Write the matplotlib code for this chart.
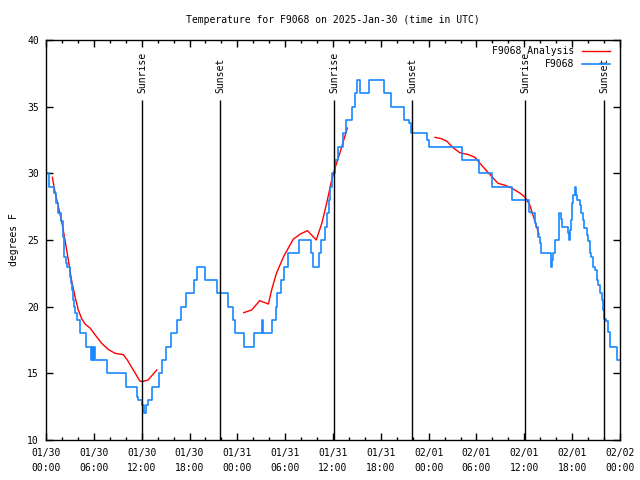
#!/usr/bin/env python3
"""Temperature trace for station F9068 with analysis line and sun events."""

import numpy as np
import matplotlib
matplotlib.use("Agg")
import matplotlib.pyplot as plt
import matplotlib.ticker as ticker

# hours since 2025-01-30 00:00 UTC
obs_hours = [0.0, 0.35, 1.0, 1.25, 1.55, 1.84, 2.09, 2.2, 2.26, 2.51, 2.59, 3.01, 3.1,
             3.22, 3.34, 3.55, 3.64, 3.85, 4.26, 4.97, 5.64, 5.78, 5.84, 6.04, 6.1, 7.7,
             10.0, 11.4, 11.55, 12.0, 12.3, 12.6, 12.75, 13.25, 14.2, 14.6, 15.0, 15.7,
             16.4, 16.9, 17.6, 18.6, 18.95, 19.9, 21.5, 22.8, 23.4, 23.75, 24.8, 26.1,
             27.05, 27.2, 28.35, 28.8, 29.0, 29.5, 29.8, 30.35, 31.75, 33.3, 33.5, 34.3,
             34.5, 35.0, 35.25, 35.45, 35.65, 35.9, 36.2, 36.6, 37.2, 37.6, 38.4, 38.7,
             39.05, 39.4, 40.5, 42.4, 43.3, 44.9, 45.5, 45.8, 47.8, 48.1, 52.2, 54.3,
             56.0, 58.5, 60.63, 60.8, 61.3, 61.5, 61.7, 61.97, 62.05, 63.3, 63.45, 63.6,
             63.8, 64.3, 64.4, 64.55, 64.7, 65.5, 65.6, 65.7, 65.8, 65.98, 66.1, 66.3,
             66.5, 66.65, 67.0, 67.1, 67.3, 67.5, 67.8, 68.0, 68.2, 68.4, 68.6, 68.9,
             69.1, 69.3, 69.5, 69.7, 69.9, 70.0, 70.3, 70.5, 70.7, 70.8, 71.6, 72.0]
obs_temps = [30, 29, 28.5, 27.75, 27, 26.4, 25.25, 24.5, 23.75, 23.25, 23, 22.25, 21.75,
             21.25, 20.5, 20, 19.5, 19, 18, 17, 16, 17, 16, 17, 16, 15,
             14, 13.25, 13, 12.6, 12, 12.6, 13, 14, 15, 16, 17, 18,
             19, 20, 21, 22, 23, 22, 21, 20, 19, 18, 17, 18,
             19, 18, 19, 20, 21, 22, 23, 24, 25, 24, 23, 24,
             25, 26, 27, 28, 29, 30, 31, 32, 33, 34, 35, 36,
             37, 36, 37, 36, 35, 34, 33.75, 33, 32.5, 32, 31, 30,
             29, 28, 27.1, 27, 26.25, 26, 25.25, 24.75, 24, 23, 23.5, 24,
             25, 26, 27, 26.6, 26, 25.5, 25, 25.75, 26.5, 27.8, 28.4, 29,
             28.4, 28, 27.6, 27, 26.5, 25.9, 25.4, 24.9, 24, 23.75, 23, 22.75,
             22, 21.6, 21, 20.5, 19.75, 19.1, 18.9, 18.1, 17.2, 17, 16, 16]

nan = np.nan
analysis_hours = [0.8, 1.13, 1.55, 1.97, 2.38, 2.8, 3.2, 3.64, 4.05, 4.47, 4.9, 5.52,
                  6.15, 6.98, 7.8, 8.66, 9.7, 10.2, 10.95, 11.8, 12.2, 12.8, 13.9, nan,
                  24.8, 25.8, 26.8, 27.9, 28.3, 28.9, 29.8, 31.0, 31.9, 32.8, 33.9, 34.6,
                  35.2, 35.8, 36.25, 36.8, 37.8, nan,
                  48.8, 49.6, 50.3, 51.1, 51.9, 53.0, 53.8, 54.65, 55.7, 56.7, 57.6, 58.4,
                  59.5, 60.1, 60.7, 61.85]
analysis_temps = [29.7, 28.6, 27.5, 26.4, 25.0, 23.5, 22.0, 20.75, 19.75, 19.1, 18.7, 18.4,
                  17.9, 17.25, 16.8, 16.5, 16.4, 16.0, 15.25, 14.4, 14.4, 14.5, 15.25, nan,
                  19.55, 19.75, 20.45, 20.2, 21.25, 22.5, 23.75, 25.05, 25.45, 25.7, 25.0, 26.25,
                  27.75, 29.4, 30.4, 31.4, 33.4, nan,
                  32.7, 32.6, 32.4, 31.9, 31.55, 31.4, 31.2, 30.6, 29.9, 29.25, 29.1, 28.9,
                  28.5, 28.2, 27.6, 25.4]

sun_hours = [12.08, 21.87, 36.17, 45.95, 60.13, 70.03]
sun_labels = ["Sunrise", "Sunset", "Sunrise", "Sunset", "Sunrise", "Sunset"]

tick_hours = list(range(0, 73, 6))
tick_labels = ["01/30\n00:00", "01/30\n06:00", "01/30\n12:00", "01/30\n18:00",
               "01/31\n00:00", "01/31\n06:00", "01/31\n12:00", "01/31\n18:00",
               "02/01\n00:00", "02/01\n06:00", "02/01\n12:00", "02/01\n18:00",
               "02/02\n00:00"]

plt.rcParams['font.family'] = ['DejaVu Sans Mono']
plt.rcParams['font.size'] = 7

fig = plt.figure(figsize=(6.4, 4.8), dpi=100)
ax = fig.add_axes([46 / 640, 40 / 480, 574 / 640, 400 / 480])

ax.plot(analysis_hours, analysis_temps, color='red', lw=1.0, label='F9068 Analysis')
ax.plot(obs_hours, obs_temps, color='#1a88ff', lw=1.2, drawstyle='steps-post', label='F9068')

for h, lab in zip(sun_hours, sun_labels):
    ax.vlines(h, 10, 35.5, color='black', lw=1.0)
    ax.text(h, 36.0, lab, rotation=90, ha='center', va='bottom', fontsize=7)

ax.set_xlim(0, 72)
ax.set_ylim(10, 40)
ax.set_xticks(tick_hours)
ax.set_xticklabels(tick_labels, linespacing=1.6)
ax.xaxis.set_minor_locator(ticker.MultipleLocator(2))
ax.set_yticks(np.arange(10, 41, 5))
ax.tick_params(which='both', direction='in', top=True, right=True, width=1.0)
ax.tick_params(which='major', length=5)
ax.tick_params(axis='x', which='major', pad=6)
ax.tick_params(axis='y', which='major', pad=5)
ax.tick_params(which='minor', length=2.5)
for sp in ax.spines.values():
    sp.set_linewidth(1.0)

ax.set_title('Temperature for F9068 on 2025-Jan-30 (time in UTC)', fontsize=7, pad=12)
ax.set_ylabel('degrees F', fontsize=7, labelpad=6)

leg = ax.legend(loc='upper right', bbox_to_anchor=(0.988, 0.9925), frameon=False,
                markerfirst=False, fontsize=7, handlelength=2.9, handletextpad=0.8,
                labelspacing=0.35, borderaxespad=0.0, borderpad=0.3)

fig.savefig('out.png', dpi=100)
